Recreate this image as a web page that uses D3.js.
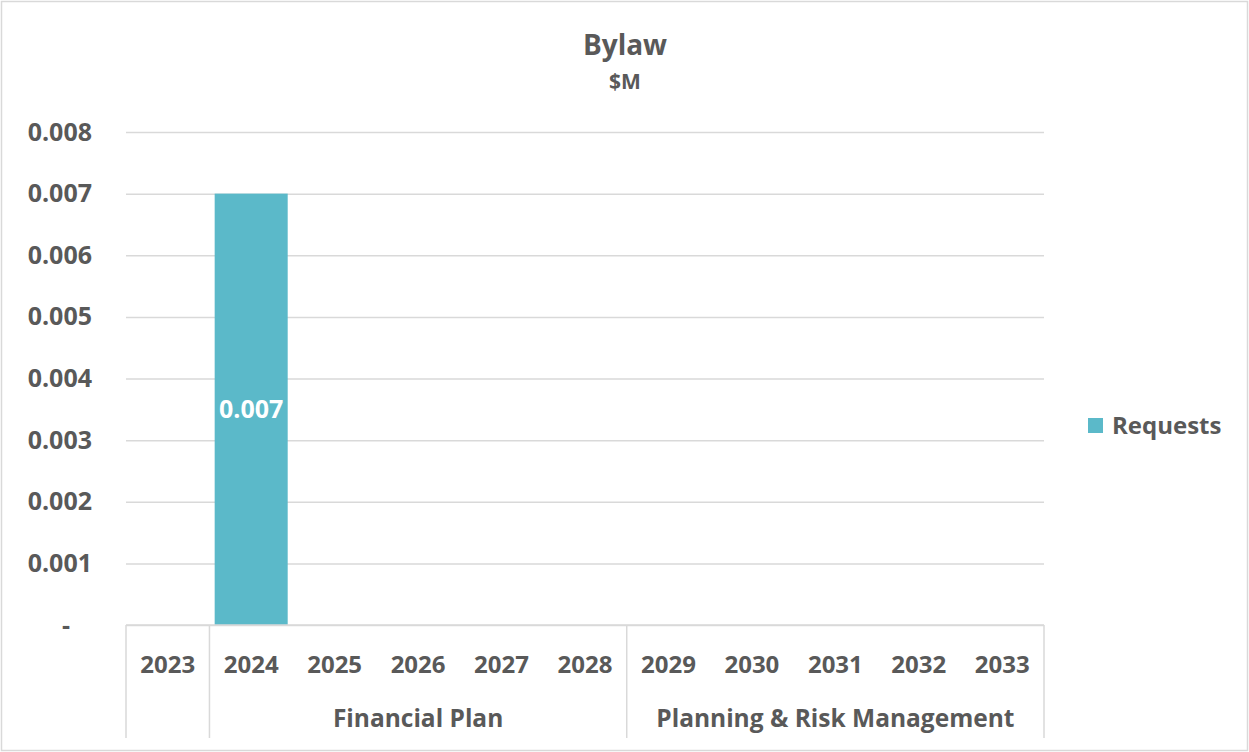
<!DOCTYPE html>
<html>
<head>
<meta charset="utf-8">
<script src="https://cdn.jsdelivr.net/npm/d3@7"></script>
<style>
  body { margin: 0; background: #fff; }
  text { font-family: "Open Sans", "Liberation Sans", sans-serif; font-weight: bold; fill: #595959; }
</style>
</head>
<body>
<script>
// chart data
const years = ["2023", "2024", "2025", "2026", "2027", "2028", "2029", "2030", "2031", "2032", "2033"];
const requests = [null, 0.007, null, null, null, null, null, null, null, null, null];
const groupOf = ["", "Financial Plan", "Financial Plan", "Financial Plan", "Financial Plan", "Financial Plan",
  "Planning & Risk Management", "Planning & Risk Management", "Planning & Risk Management",
  "Planning & Risk Management", "Planning & Risk Management"];
const yTicks = [0, 0.001, 0.002, 0.003, 0.004, 0.005, 0.006, 0.007, 0.008];
const seriesName = "Requests";

const W = 1249, H = 752;
const plotLeft = 126, plotRight = 1044, plotTop = 132, plotBottom = 625;
const barColor = "#5BB9C9";
const gridColor = "#D9D9D9";

const svg = d3
  .select("body")
  .append("svg")
  .attr("width", W)
  .attr("height", H);

// outer border
svg
  .append("rect")
  .attr("x", 1.5)
  .attr("y", 1.5)
  .attr("width", W - 3)
  .attr("height", H - 3)
  .attr("fill", "#fff")
  .attr("stroke", gridColor)
  .attr("stroke-width", 1.5);

const x = d3.scaleBand().domain(years).range([plotLeft, plotRight]).paddingInner(0.125).paddingOuter(0.0625);
const y = d3.scaleLinear().domain([0, 0.008]).range([plotBottom, plotTop]);

// gridlines + y labels
const yAxis = d3
  .axisLeft(y)
  .tickValues(yTicks)
  .tickSize(-(plotRight - plotLeft))
  .tickPadding(34)
  .tickFormat((d) => (d === 0 ? "-" : d3.format(".3f")(d)));

const gy = svg.append("g").attr("transform", `translate(${plotLeft},0)`).call(yAxis);
gy.select(".domain").remove();
gy.selectAll("line").attr("stroke", gridColor).attr("stroke-width", 1.5);
gy.selectAll("text").attr("font-size", 25).attr("fill", "#595959").style("font-family", '"Open Sans", sans-serif');
gy.selectAll(".tick")
  .filter((d) => d === 0)
  .select("text")
  .attr("dx", -22);

// bars
const data = years.map((yr, i) => ({ year: yr, value: requests[i] }));
svg
  .selectAll("rect.bar")
  .data(data.filter((d) => d.value != null))
  .enter()
  .append("rect")
  .attr("class", "bar")
  .attr("x", (d) => x(d.year))
  .attr("width", x.bandwidth())
  .attr("y", (d) => y(d.value))
  .attr("height", (d) => y(0) - y(d.value))
  .attr("fill", barColor);

// data labels
svg
  .selectAll("text.dl")
  .data(data.filter((d) => d.value != null))
  .enter()
  .append("text")
  .attr("class", "dl")
  .attr("x", (d) => x(d.year) + x.bandwidth() / 2)
  .attr("y", (d) => (y(d.value) + y(0)) / 2)
  .attr("dy", "0.35em")
  .attr("text-anchor", "middle")
  .attr("font-size", 25)
  .style("fill", "#fff")
  .text((d) => d3.format(".3f")(d.value));

// x axis baseline
svg
  .append("line")
  .attr("x1", plotLeft)
  .attr("x2", plotRight)
  .attr("y1", plotBottom)
  .attr("y2", plotBottom)
  .attr("stroke", gridColor)
  .attr("stroke-width", 1.5);

// year labels
svg
  .selectAll("text.year")
  .data(years)
  .enter()
  .append("text")
  .attr("class", "year")
  .attr("x", (d) => x(d) + x.bandwidth() / 2)
  .attr("y", 673)
  .attr("text-anchor", "middle")
  .attr("font-size", 24)
  .text((d) => d);

// group boundaries + labels
const step = x.step();
const groups = [];
groupOf.forEach((g, i) => {
  if (i === 0 || g !== groupOf[i - 1]) groups.push({ name: g, start: i, end: i });
  else groups[groups.length - 1].end = i;
});
const sepX = [plotLeft].concat(groups.map((g) => plotLeft + (g.end + 1) * step));
svg
  .selectAll("line.sep")
  .data(sepX)
  .enter()
  .append("line")
  .attr("class", "sep")
  .attr("x1", (d) => d)
  .attr("x2", (d) => d)
  .attr("y1", plotBottom)
  .attr("y2", 738)
  .attr("stroke", gridColor)
  .attr("stroke-width", 1.5);

svg
  .selectAll("text.group")
  .data(groups.filter((g) => g.name))
  .enter()
  .append("text")
  .attr("class", "group")
  .attr("x", (g) => plotLeft + ((g.start + g.end + 1) / 2) * step)
  .attr("y", 727)
  .attr("text-anchor", "middle")
  .attr("font-size", 24.5)
  .text((g) => g.name);

// title
svg
  .append("text")
  .attr("x", 625)
  .attr("y", 55)
  .attr("text-anchor", "middle")
  .attr("font-size", 28)
  .text("Bylaw");
svg
  .append("text")
  .attr("x", 625)
  .attr("y", 89)
  .attr("text-anchor", "middle")
  .attr("font-size", 21)
  .text("$M");

// legend
svg
  .append("rect")
  .attr("x", 1088)
  .attr("y", 418)
  .attr("width", 15)
  .attr("height", 15)
  .attr("fill", barColor);
svg
  .append("text")
  .attr("x", 1112)
  .attr("y", 434)
  .attr("font-size", 24)
  .text(seriesName);
</script>
</body>
</html>
